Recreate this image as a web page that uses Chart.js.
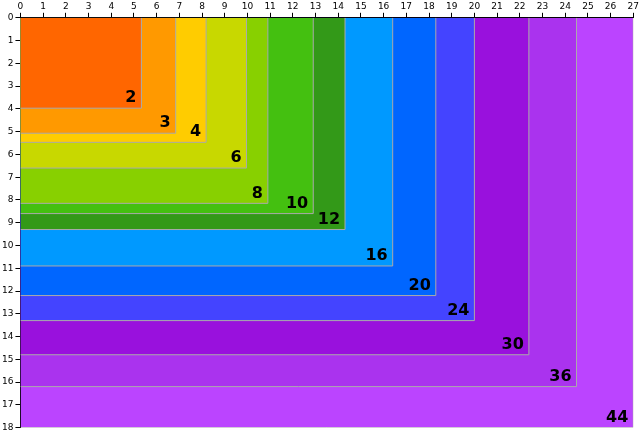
<!DOCTYPE html>
<html><head><meta charset="utf-8">
<script src="https://cdn.jsdelivr.net/npm/chart.js@4/dist/chart.umd.min.js"></script>
<style>html,body{margin:0;padding:0;background:#fff}#w{width:640px;height:435px}</style>
</head><body><div id="w"><canvas id="c"></canvas></div>
<script>
const labels=['2','3','4','6','8','10','12','16','20','24','30','36','44'];
const widths=[5.33,6.84,8.18,9.96,10.9,12.9,14.3,16.4,18.3,20.0,22.4,24.5,27];
const heights=[3.97,5.07,5.47,6.6,8.15,8.6,9.3,10.9,12.2,13.3,14.8,16.2,18];
const colors=['#ff6600','#ff9900','#ffcc00','#c8d800','#88d000','#44c010','#339918','#0099ff','#0066ff','#4444ff','#9911dd','#aa33ee','#bb44ff'];
const datasets=labels.map((l,i)=>({label:l,data:[{x:0,y:heights[i]},{x:widths[i],y:heights[i]},{x:widths[i],y:0}],
 backgroundColor:colors[i],borderColor:'#aaaaaa',borderWidth:1,pointRadius:0,fill:{value:0},tension:0}));
const labelPlugin={id:'lbl',afterDatasetsDraw(ch){const c=ch.ctx,xs=ch.scales.x,ys=ch.scales.y;c.save();
 c.font='bold 16px "DejaVu Sans"';c.fillStyle='#000';c.textAlign='right';c.textBaseline='bottom';
 labels.forEach((l,i)=>{c.fillText(l,xs.getPixelForValue(widths[i])-5,ys.getPixelForValue(heights[i])-2);});c.restore();}};
new Chart(document.getElementById('c'),{type:'line',data:{datasets},plugins:[labelPlugin],
 options:{animation:false,responsive:true,maintainAspectRatio:false,layout:{padding:{right:6,left:0,top:0}},
 plugins:{legend:{display:false},tooltip:{enabled:false}},
 scales:{x:{type:'linear',position:'top',min:0,max:27,ticks:{stepSize:1,font:{size:9,family:'DejaVu Sans'},color:'#000',padding:1},
   grid:{drawOnChartArea:false,tickLength:5,color:'#000'},border:{color:'#000'}},
  y:{type:'linear',reverse:true,min:0,max:18,ticks:{stepSize:1,font:{size:9,family:'DejaVu Sans'},color:'#000',padding:2},
   grid:{drawOnChartArea:false,tickLength:5,color:'#000'},border:{color:'#000'}}}}});
</script></body></html>
